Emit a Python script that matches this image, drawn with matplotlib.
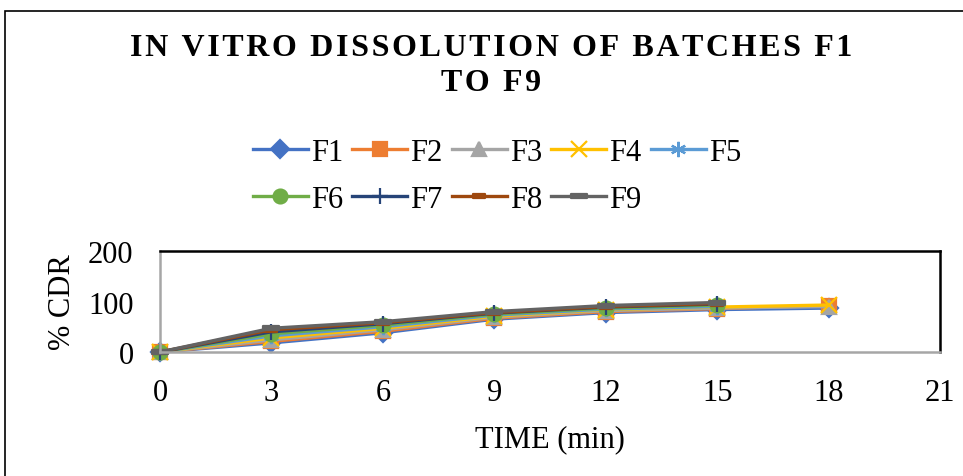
import matplotlib
matplotlib.use("Agg")
import matplotlib.pyplot as plt
from matplotlib.patches import Rectangle
from matplotlib.path import Path

plt.rcParams['font.family'] = ['Liberation Serif', 'DejaVu Serif']

# data (time in min, % CDR)
time = [0, 3, 6, 9, 12, 15, 18]
F1 = [0, 18, 38, 65, 78, 84, 87]
F2 = [0, 21, 41, 67, 80, 86, 92]
F3 = [0, 24, 44, 69, 82, 87, 90]
F4 = [0, 28, 47, 71, 84, 89, 93]
F5 = [0, 32, 50, 73, 85, 90]
F6 = [0, 36, 53, 75, 87, 93]
F7 = [0, 40, 56, 77, 89, 95]
F8 = [0, 44, 58, 78, 90, 96]
F9 = [0, 47, 60, 80, 92, 98]
names = ["F1", "F2", "F3", "F4", "F5", "F6", "F7", "F8", "F9"]
series = [F1, F2, F3, F4, F5, F6, F7, F8, F9]

colors = ["#4472C4", "#ED7D31", "#A5A5A5", "#FFC000", "#5B9BD5",
          "#70AD47", "#264478", "#9E480E", "#636363"]
dash = Path([(-1, -0.3), (1, -0.3), (1, 0.3), (-1, 0.3), (-1, -0.3)],
            [Path.MOVETO, Path.LINETO, Path.LINETO, Path.LINETO, Path.CLOSEPOLY])
markers = ["D", "s", "^", "x", (6, 2, 0), "o", "+", dash, dash]
msizes = [9, 10, 10, 11, 11, 10, 12, 8, 11]

fig = plt.figure(figsize=(9.63, 4.77), dpi=100)
ax = fig.add_axes([160/963, 1-353/477, 780/963, 101/477])

handles = []
for name, ys, c, m, ms in zip(names, series, colors, markers, msizes):
    h, = ax.plot(time[:len(ys)], ys, color=c, lw=2.4, marker=m, ms=ms,
                 mfc=c, mec=c, mew=1.6, label=name, clip_on=False)
    handles.append(h)

ax.set_xlim(0, 21)
ax.set_ylim(0, 200)
ax.set_xticks(range(0, 22, 3))
ax.set_yticks([0, 100, 200])
ax.tick_params(length=0, labelsize=22)
ax.tick_params(axis='x', pad=19)
ax.tick_params(axis='y', pad=19)
for s in ['top', 'right']:
    ax.spines[s].set_color('black')
    ax.spines[s].set_linewidth(1.8)
for s in ['left', 'bottom']:
    ax.spines[s].set_color('#A6A6A6')
    ax.spines[s].set_linewidth(1.8)

ax.set_xlabel("TIME (min)", fontsize=22, labelpad=12)
ax.set_ylabel("% CDR", fontsize=22, labelpad=8)

ts = "\u200a"
line1 = "IN VITRO DISSOLUTION OF BATCHES F1"
line2 = "TO F9"
fig.text(491/963, 1-49/477, ts.join(line1), ha='center', va='center',
         fontsize=23, fontweight='bold')
fig.text(491/963, 1-84/477, ts.join(line2), ha='center', va='center',
         fontsize=23, fontweight='bold')

# order so that column-major filling gives F1..F5 / F6..F9 rows
order = [0, 5, 1, 6, 2, 7, 3, 8, 4]
fig.legend([handles[i] for i in order], [names[i] for i in order],
           ncol=5, loc='center', bbox_to_anchor=(497/963, 1-177/477),
           frameon=False, fontsize=22, handlelength=1.8, handletextpad=0.1,
           columnspacing=0.3, labelspacing=0.6)

# outer chart border
fig.patches.append(Rectangle((5/963, -0.05), 1.2, 1-12/477+0.05,
                             transform=fig.transFigure, fill=False,
                             ec='black', lw=1.2))

fig.savefig("out.png", dpi=100)
